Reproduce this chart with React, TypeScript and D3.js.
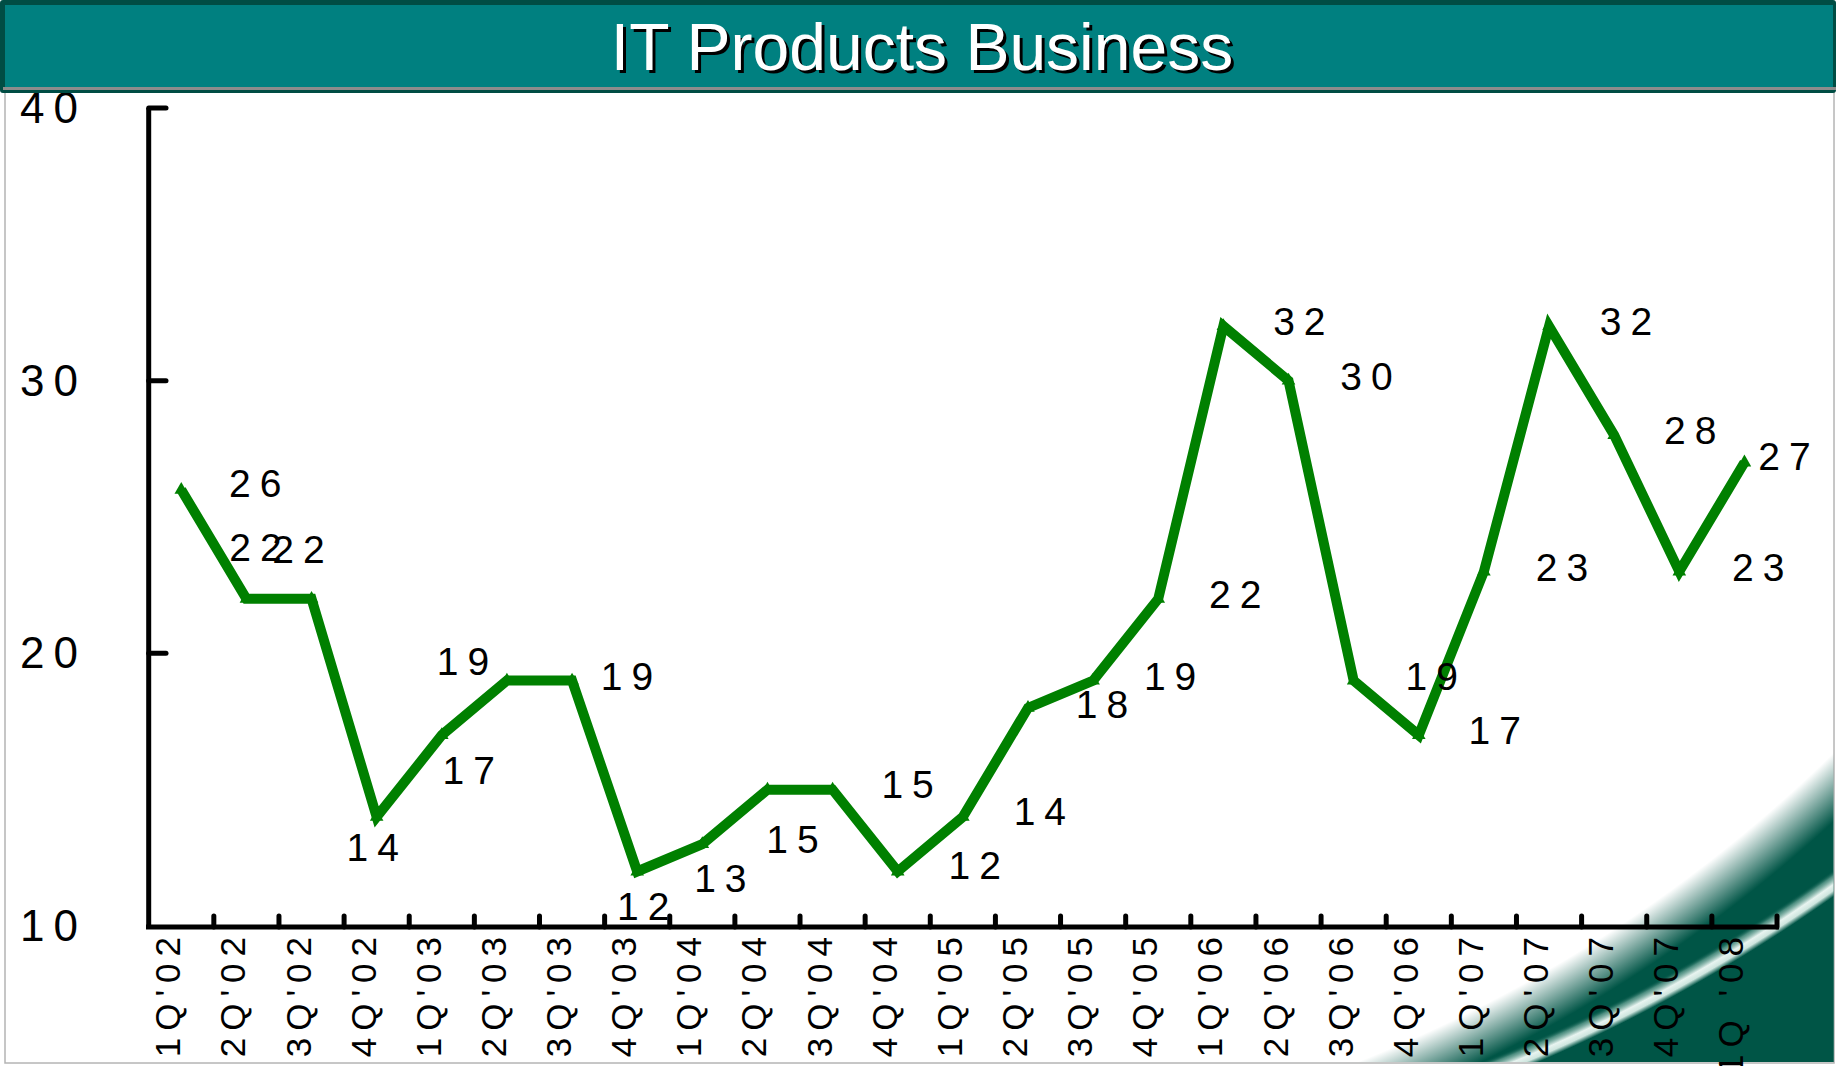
import React, { useEffect, useRef } from 'react';
import * as d3 from 'd3';

// quarters on the x axis (last label has a space in the original)
const quarters = [
  "1Q'02", "2Q'02", "3Q'02", "4Q'02",
  "1Q'03", "2Q'03", "3Q'03", "4Q'03",
  "1Q'04", "2Q'04", "3Q'04", "4Q'04",
  "1Q'05", "2Q'05", "3Q'05", "4Q'05",
  "1Q'06", "2Q'06", "3Q'06", "4Q'06",
  "1Q'07", "2Q'07", "3Q'07", "4Q'07",
  "1Q '08",
];

const revenue = [
  26, 22, 22, 14, 17, 19, 19, 12, 13, 15, 15, 12, 14,
  18, 19, 22, 32, 30, 19, 17, 23, 32, 28, 23, 27,
];

const yTicks = [10, 20, 30, 40];

// hand-placed label offsets from the original slide (px from the point)
const labelNudge: [number, number][] = [
  [74, -7], [9, -52], [-13, -50], [-4, 30], [27, 35], [-44, -20], [55, -5],
  [6, 35], [18, 34], [25, 49], [75, -6], [77, -6], [77, -6], [74, -4],
  [77, -5], [77, -5], [76, -5], [78, -5], [78, -5], [76, -5], [78, -5],
  [77, -5], [76, -5], [79, -5], [40, -6],
];

const W = 1836;
const H = 1066;
const FONT = "'Liberation Sans', Arial, Helvetica, sans-serif";
const DARK = '#005546';

// radial gradient helper: stops given as [radius px, colour, opacity]
const addRadial = (defs, id, cx, cy, r, stops) => {
  const g = defs
    .append('radialGradient')
    .attr('id', id)
    .attr('gradientUnits', 'userSpaceOnUse')
    .attr('cx', cx)
    .attr('cy', cy)
    .attr('r', r);
  stops.forEach(([rad, c, a]) => {
    g.append('stop').attr('offset', rad / r).attr('stop-color', c).attr('stop-opacity', a);
  });
};

const App = () => {
  const svgRef = useRef(null);

  useEffect(() => {
    const svg = d3.select(svgRef.current);
    svg.selectAll('*').remove();

    const x = d3.scaleBand().domain(quarters).range([148.7, 1777]).padding(0);
    const y = d3.scaleLinear().domain([10, 40]).range([926, 108]);
    const cx = (q) => x(q) + x.bandwidth() / 2;

    const defs = svg.append('defs');

    // swoosh in the lower right corner: a soft dark glow plus a thin light arc
    addRadial(defs, 'glow', 832, -268, 1800, [
      [0, DARK, 0],
      [1430, DARK, 0],
      [1455, DARK, 0.5],
      [1480, DARK, 1],
      [1800, DARK, 1],
    ]);
    addRadial(defs, 'arc', 898, -426, 1800, [
      [0, DARK, 0],
      [1598, DARK, 0],
      [1603, '#7fb3a6', 0.6],
      [1610, '#e8f4f0', 1],
      [1615, '#cfe6df', 1],
      [1620, DARK, 1],
      [1800, DARK, 1],
    ]);

    // panel
    svg
      .append('rect')
      .attr('x', 5)
      .attr('y', 92)
      .attr('width', W - 7)
      .attr('height', H - 95)
      .attr('fill', 'white')
      .attr('stroke', '#b4b4b4')
      .attr('stroke-width', 1.5);
    svg
      .append('rect')
      .attr('x', 898)
      .attr('y', 92)
      .attr('width', W - 2.5 - 898)
      .attr('height', H - 96)
      .attr('fill', 'url(#glow)');
    svg
      .append('rect')
      .attr('x', 898)
      .attr('y', 92)
      .attr('width', W - 2.5 - 898)
      .attr('height', H - 96)
      .attr('fill', 'url(#arc)');

    // y axis
    svg
      .append('line')
      .attr('x1', 148.7)
      .attr('x2', 148.7)
      .attr('y1', y(40))
      .attr('y2', y(10) + 2)
      .attr('stroke', 'black')
      .attr('stroke-width', 5);
    svg
      .selectAll('.ytick')
      .data(yTicks.filter((d) => d > 10))
      .enter()
      .append('line')
      .attr('x1', 148.7)
      .attr('x2', 166)
      .attr('y1', (d) => y(d))
      .attr('y2', (d) => y(d))
      .attr('stroke', 'black')
      .attr('stroke-width', 5)
      .attr('stroke-linecap', 'round');
    svg
      .selectAll('.ylabel')
      .data(yTicks)
      .enter()
      .append('text')
      .attr('x', 20)
      .attr('y', (d) => y(d) + 15)
      .attr('font-family', FONT)
      .attr('font-size', 44)
      .attr('letter-spacing', 9)
      .attr('fill', 'black')
      .text((d) => d);

    // x axis
    svg
      .append('line')
      .attr('x1', 146)
      .attr('x2', 1779)
      .attr('y1', 927)
      .attr('y2', 927)
      .attr('stroke', 'black')
      .attr('stroke-width', 5);
    svg
      .selectAll('.xtick')
      .data(quarters)
      .enter()
      .append('line')
      .attr('x1', (d) => x(d) + x.bandwidth())
      .attr('x2', (d) => x(d) + x.bandwidth())
      .attr('y1', 927)
      .attr('y2', 916)
      .attr('stroke', 'black')
      .attr('stroke-width', 5)
      .attr('stroke-linecap', 'round');
    svg
      .selectAll('.xlabel')
      .data(quarters)
      .enter()
      .append('text')
      .attr('transform', (d) => `translate(${cx(d) - 1},930) rotate(-90)`)
      .attr('text-anchor', 'end')
      .attr('font-family', FONT)
      .attr('font-size', 35)
      .attr('letter-spacing', 7)
      .attr('fill', 'black')
      .text((d) => d);

    // series line
    const line = d3
      .line()
      .x((d, i) => cx(quarters[i]))
      .y((d) => y(d));
    svg
      .append('path')
      .datum(revenue)
      .attr('d', line)
      .attr('fill', 'none')
      .attr('stroke', '#008000')
      .attr('stroke-width', 10)
      .attr('stroke-linejoin', 'miter');
    svg
      .selectAll('.marker')
      .data(revenue)
      .enter()
      .append('path')
      .attr('d', d3.symbol().type(d3.symbolTriangle).size(80))
      .attr('transform', (d, i) => `translate(${cx(quarters[i])},${y(d)})`)
      .attr('fill', '#008000');

    // value labels
    svg
      .selectAll('.vlabel')
      .data(revenue)
      .enter()
      .append('text')
      .attr('x', (d, i) => cx(quarters[i]) + labelNudge[i][0] + 4.5)
      .attr('y', (d, i) => y(d) + labelNudge[i][1] + 14)
      .attr('text-anchor', 'middle')
      .attr('font-family', FONT)
      .attr('font-size', 39)
      .attr('letter-spacing', 9)
      .attr('fill', 'black')
      .text((d) => d);

    // title bar
    svg.append('rect').attr('x', 0).attr('y', 0).attr('width', W).attr('height', 93).attr('rx', 3).attr('fill', '#004d44');
    svg.append('rect').attr('x', 5).attr('y', 5).attr('width', W - 8).attr('height', 82).attr('fill', '#008080');
    svg.append('rect').attr('x', 3).attr('y', 87).attr('width', W - 3).attr('height', 3).attr('fill', '#8c8c8c');

    const title = 'IT Products Business';
    svg
      .append('text')
      .attr('x', 925)
      .attr('y', 73)
      .attr('text-anchor', 'middle')
      .attr('font-family', FONT)
      .attr('font-size', 66)
      .attr('fill', 'black')
      .text(title);
    svg
      .append('text')
      .attr('x', 922)
      .attr('y', 70)
      .attr('text-anchor', 'middle')
      .attr('font-family', FONT)
      .attr('font-size', 66)
      .attr('fill', 'white')
      .text(title);
  }, []);

  return (
    <svg
      ref={svgRef}
      width={W}
      height={H}
      style={{ position: 'absolute', left: 0, top: 0, display: 'block', background: 'white' }}
    />
  );
};

export default App;
